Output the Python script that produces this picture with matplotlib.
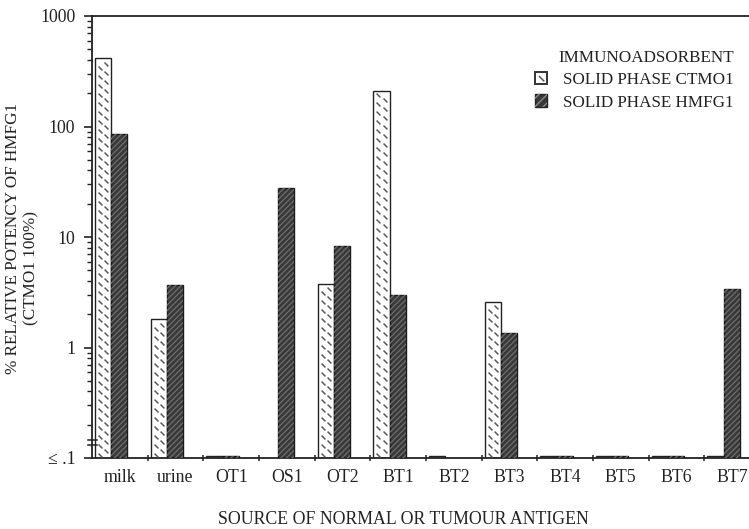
import numpy as np
import matplotlib
matplotlib.use("Agg")
import matplotlib.pyplot as plt
from matplotlib.path import Path
from matplotlib.patches import Rectangle
from matplotlib.legend_handler import HandlerBase
from matplotlib.ticker import FixedLocator, NullFormatter
import matplotlib.transforms as mtransforms

plt.rcParams['font.family'] = ['Liberation Serif', 'DejaVu Serif']
plt.rcParams['hatch.linewidth'] = 1.0

# Sources of antigen and relative potency (% of CTMO1) for each solid phase
categories = ['milk', 'urine', 'OT1', 'OS1', 'OT2', 'BT1', 'BT2', 'BT3',
              'BT4', 'BT5', 'BT6', 'BT7']
ctmo1 = [418, 1.8, 0.104, np.nan, 3.76, 208, 0.104, 2.6, 0.104, 0.104, 0.104, 0.104]
hmfg1 = [86, 3.68, 0.104, 27.5, 8.3, 3.0, np.nan, 1.36, 0.104, 0.104, 0.104, 3.4]
ytick_vals = [0.1, 1, 10, 100, 1000]
ytick_labels = ['\u2264 .1', '1', '10', '100', '1000']

BASE = 0.1
FS = 12.8
INK = '#222222'

W, H = 749, 529
fig = plt.figure(figsize=(W / 100, H / 100), dpi=100)
ax_left, ax_bottom = 92 / W, 1 - 458 / H
ax_w, ax_h = (760 - 92) / W, (458 - 16) / H
ax = fig.add_axes([ax_left, ax_bottom, ax_w, ax_h])

ax.set_yscale('log')
ax.set_ylim(BASE, 1000)
ax.set_xlim(0, len(categories))

x0 = np.arange(len(categories))
bw = 0.29
off1, off2 = 0.055, 0.055 + bw
c_h = np.array(ctmo1) - BASE
h_h = np.array(hmfg1) - BASE

dark = '#383838'
ax.bar(x0 + off1, c_h, width=bw, align='edge', bottom=BASE,
       facecolor='white', edgecolor=INK, linewidth=1.0, zorder=2)
ax.bar(x0 + off2, h_h, width=bw, align='edge', bottom=BASE,
       facecolor=dark, edgecolor='#1a1a1a', linewidth=1.0, zorder=2)
ax.bar(x0 + off2, h_h, width=bw, align='edge', bottom=BASE,
       fill=False, hatch='//////', edgecolor='#6a6a6a', linewidth=0, zorder=3)

# short dash texture inside the CTMO1 bars
dash = Path([(-1, 1), (1, -1)], [Path.MOVETO, Path.LINETO])
blend = mtransforms.blended_transform_factory(ax.transData, ax.transAxes)
ax_h_px = 458 - 16
step = 9.0
for xi, v in zip(x0, ctmo1):
    if not np.isfinite(v) or v < 0.2:
        continue
    top_px = (np.log10(v) - np.log10(BASE)) / 4 * ax_h_px
    for col, shift in ((0.3, 3.0), (0.7, 7.5)):
        ys = np.arange(shift, top_px - 3, step) / ax_h_px
        xs = np.full_like(ys, xi + off1 + col * bw)
        ax.plot(xs, ys, transform=blend, linestyle='none', marker=dash,
                markersize=2.8, markeredgewidth=1.1, color='#5a5a5a',
                zorder=3, clip_on=False)

# axes styling
ax.spines['right'].set_visible(False)
for s in ('left', 'top', 'bottom'):
    ax.spines[s].set_linewidth(1.3)
    ax.spines[s].set_color(INK)

ax.yaxis.set_major_locator(FixedLocator(ytick_vals))
ax.set_yticklabels(ytick_labels, fontsize=FS)
ax.yaxis.set_minor_locator(FixedLocator(
    [m * 10.0 ** e for e in range(-1, 3) for m in range(2, 10)]))
ax.yaxis.set_minor_formatter(NullFormatter())
ax.tick_params(axis='y', which='major', length=6, width=1.2, pad=6,
               direction='out', colors=INK, labelcolor=INK)
ax.tick_params(axis='y', which='minor', length=3.5, width=1.0,
               direction='out', colors=INK)

ax.set_xticks(x0 + 0.5)
ax.set_xticklabels(categories, fontsize=FS)
ax.set_xticks(np.arange(1, len(categories) + 1), minor=True)
ax.tick_params(axis='x', which='major', length=0, pad=8, labelcolor=INK)
ax.tick_params(axis='x', which='minor', length=4, width=1.1, direction='inout',
               colors=INK)

# axis break marks near the bottom of the value axis
brk = mtransforms.blended_transform_factory(fig.transFigure, ax.transAxes)
for yb in (18 / ax_h_px, 13 / ax_h_px):
    ax.plot([88 / W, 97 / W], [yb, yb], transform=brk, color=INK,
            lw=1.1, clip_on=False, zorder=4)

fig.text(403 / W, 1 - 520 / H, 'SOURCE OF NORMAL OR TUMOUR ANTIGEN',
         ha='center', va='center', fontsize=FS, color=INK)
fig.text(13 / W, 1 - 238 / H, '% RELATIVE POTENCY OF HMFG1', rotation=90,
         ha='center', va='center', fontsize=12.3, color=INK)
fig.text(31 / W, 1 - 268 / H, '(CTMO1 100%)', rotation=90,
         ha='center', va='center', fontsize=12.3, color=INK)


class SwatchHandler(HandlerBase):
    def __init__(self, kind):
        super().__init__()
        self.kind = kind

    def create_artists(self, legend, orig_handle, xdescent, ydescent,
                       width, height, fontsize, trans):
        s = 9.0
        x = xdescent + (width - s) / 2
        y = ydescent + (height - s) / 2
        if self.kind == 'c':
            return [Rectangle((x, y), s, s, facecolor='white', edgecolor='#333333',
                              lw=1.4, transform=trans),
                    plt.Line2D([x + 3.5, x + 6.5], [y + 5.5, y + 2.5],
                               color='#555555', lw=1.1, transform=trans)]
        return [Rectangle((x, y), s, s, facecolor=dark, edgecolor=INK,
                          lw=1.0, transform=trans),
                Rectangle((x, y), s, s, fill=False, lw=0, edgecolor='#888888',
                          hatch='////', transform=trans)]


hc = Rectangle((0, 0), 1, 1)
hh = Rectangle((0, 0), 1, 1)
leg = ax.legend([hc, hh], ['SOLID PHASE CTMO1', 'SOLID PHASE HMFG1'],
                handler_map={hc: SwatchHandler('c'), hh: SwatchHandler('h')},
                title='IMMUNOADSORBENT', loc='upper left',
                bbox_to_anchor=((523 - 92) / (760 - 92), 1 - (41 - 16) / ax_h_px),
                frameon=False, fontsize=12.3, title_fontsize=12.3,
                handlelength=1.1, handletextpad=0.75, labelspacing=0.38,
                borderpad=0, alignment='right')
for t in leg.get_texts():
    t.set_color(INK)
leg.get_title().set_color(INK)

fig.savefig('out.png', dpi=100)
